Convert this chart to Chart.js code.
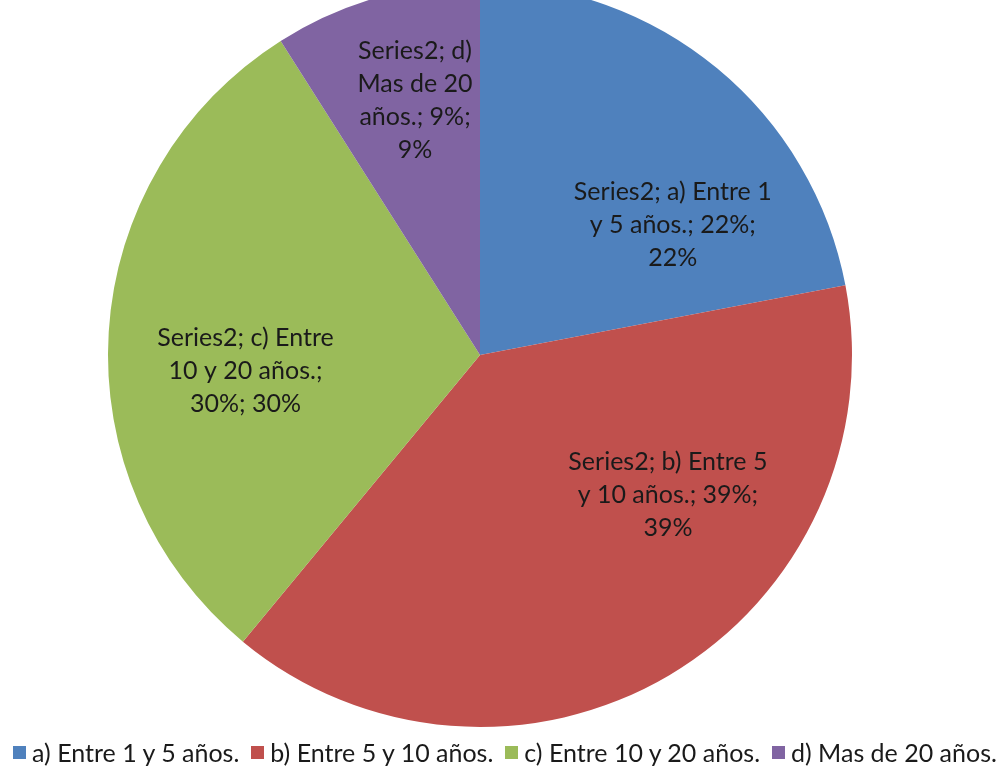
<!DOCTYPE html>
<html>
<head>
<meta charset="utf-8">
<script src="https://cdn.jsdelivr.net/npm/chart.js@4"></script>
<style>
  html, body { margin: 0; padding: 0; background: #fff; overflow: hidden; }
  #wrap { position: relative; width: 1003px; height: 767px; }
  #legend {
    position: absolute; left: 0; width: 1010px; top: 737px; height: 30px;
    display: flex; justify-content: center; align-items: center;
    font-family: Lato, "Open Sans", sans-serif; font-size: 25px; color: #1a1a1a;
    white-space: nowrap;
  }
  #legend span.item { display: inline-flex; align-items: center; margin: 0 6px; }
  #legend span.box { display: inline-block; width: 13px; height: 13px; margin-right: 6px; }
</style>
</head>
<body>
<div id="wrap">
  <canvas id="pie" width="1003" height="767"></canvas>
  <div id="legend"></div>
</div>
<script>
// data
var categories = ['a) Entre 1 y 5 años.', 'b) Entre 5 y 10 años.', 'c) Entre 10 y 20 años.', 'd) Mas de 20 años.'];
var shares = [22, 39, 30, 9];
var seriesName = 'Series2';
var colors = ['#4F81BD', '#C0504D', '#9BBB59', '#8064A2'];

// label text broken as in the picture
var labelLines = [
    ['Series2; a) Entre 1', 'y 5 años.; 22%;', '22%'],
    ['Series2; b) Entre 5', 'y 10 años.; 39%;', '39%'],
    ['Series2; c) Entre', '10 y 20 años.;', '30%; 30%'],
    ['Series2; d)', 'Mas de 20', 'años.; 9%;', '9%']
];
// where each label sits: angle (deg, 0 = right, clockwise) and fraction of radius
var labelAt = [[-34, 0.625], [36.7, 0.63], [176, 0.632], [-104.3, 0.707]];

var sliceLabels = {
    id: 'sliceLabels',
    afterDatasetsDraw: function(chart) {
        var ctx = chart.ctx;
        var arcs = chart.getDatasetMeta(0).data;
        ctx.save();
        ctx.font = '25px Lato, "Open Sans", sans-serif';
        ctx.fillStyle = '#1a1a1a';
        ctx.textAlign = 'center';
        ctx.textBaseline = 'middle';
        arcs.forEach(function(arc, i) {
            var a = labelAt[i][0] * Math.PI / 180;
            var r = arc.outerRadius * labelAt[i][1];
            var cx = arc.x + Math.cos(a) * r;
            var cy = arc.y + Math.sin(a) * r;
            var lines = labelLines[i];
            var lh = 33;
            var y0 = cy - (lines.length - 1) * lh / 2;
            lines.forEach(function(t, k) { ctx.fillText(t, cx, y0 + k * lh); });
        });
        ctx.restore();
    }
};

var chart = new Chart(document.getElementById('pie'), {
    type: 'pie',
    data: {
        labels: categories,
        datasets: [{
            label: seriesName,
            data: shares,
            backgroundColor: colors,
            borderWidth: 0,
            radius: 372,
            clip: false
        }]
    },
    options: {
        responsive: false,
        animation: false,
        layout: { padding: { left: 0, right: 43, top: 0, bottom: 57 } },
        plugins: {
            legend: { display: false },
            tooltip: { enabled: false }
        }
    },
    plugins: [sliceLabels]
});

// legend under the pie
var lg = document.getElementById('legend');
categories.forEach(function(c, i) {
    var it = document.createElement('span');
    it.className = 'item';
    var b = document.createElement('span');
    b.className = 'box';
    b.style.background = colors[i];
    it.appendChild(b);
    it.appendChild(document.createTextNode(c));
    lg.appendChild(it);
});
</script>
</body>
</html>
